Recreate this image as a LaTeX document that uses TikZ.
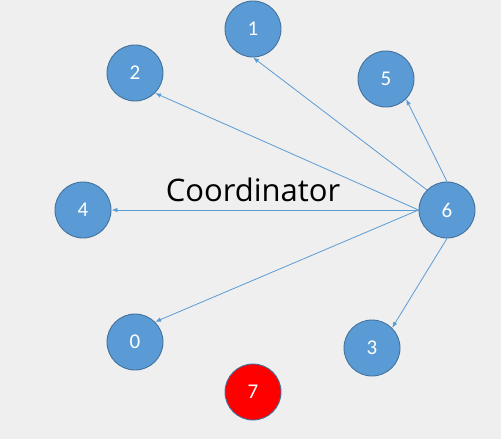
\documentclass[tikz,border=0pt]{standalone}
\usepackage{fontspec}
\setmainfont{Carlito}
\newfontfamily\labelfont{Open Sans}
\usetikzlibrary{arrows.meta}

\definecolor{bgcol}{HTML}{EFEFEF}
\definecolor{nodeblue}{HTML}{5B9BD5}
\definecolor{nodeedge}{HTML}{41719C}

\tikzset{
  peer/.style={circle, draw=nodeedge, line width=0.9pt, fill=nodeblue,
    minimum size=56pt, inner sep=0pt, text=white, font=\fontsize{21}{21}\selectfont},
  failed/.style={peer, fill=red},
  msg/.style={draw=nodeblue, line width=0.8pt, -{Latex[length=6pt, width=4.5pt]}}
}

\begin{document}
\begin{tikzpicture}[x=1pt, y=-1pt]
\fill[bgcol] (0,0) rectangle (501,439);
\useasboundingbox (0,0) rectangle (501,439);
\node[peer] (n1) at (253,29) {1};
\node[peer] (n2) at (135,73) {2};
\node[peer] (n5) at (386,79) {5};
\node[peer] (n4) at (83,210) {4};
\node[peer] (n6) at (447,210) {6};
\node[peer] (n0) at (135,342) {0};
\node[peer] (n3) at (372,348) {3};
\node[failed] (n7) at (253,392) {7};
\node[anchor=base, inner sep=0pt, font=\labelfont\fontsize{31}{31}\selectfont] (coord) at (253,201) {Coordinator};
\draw[msg] (n6.west) -- (n2.south east);
\draw[msg] (n6.west) -- (n4.east);
\draw[msg] (n6.west) -- (n0.north east);
\draw[msg] (n6.north west) -- (n1.south);
\draw[msg] (n6.north) -- (n5.south east);
\draw[msg] (n6.south) -- (n3.north east);
\end{tikzpicture}
\end{document}
